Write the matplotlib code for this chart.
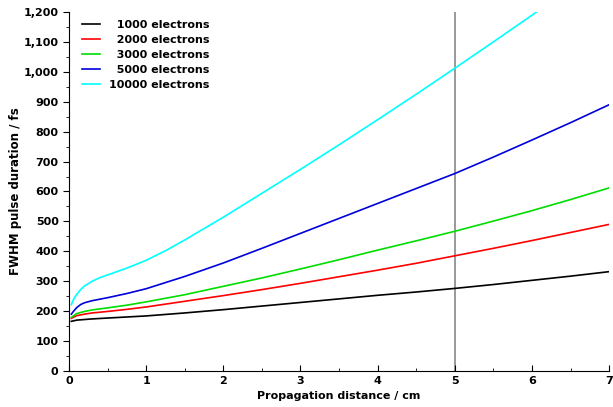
import numpy as np
import matplotlib
matplotlib.use('Agg')
from matplotlib import pyplot as plt
from matplotlib.ticker import MultipleLocator, FuncFormatter

# Данные кривых: расстояние, см -> длительность, фс
x_1000 = [0.03, 0.1, 0.3, 0.5, 1, 1.5, 2, 2.5, 3, 3.5, 4, 4.5, 5, 5.5, 6, 6.5, 7]
y_1000 = [166, 170, 174, 177, 184, 194, 205, 217, 229, 241, 253, 264, 276, 289, 303, 317, 332]

x_2000 = [0.03, 0.1, 0.2, 0.3, 0.5, 0.75, 1, 1.5, 2, 2.5, 3, 3.5, 4, 4.5, 5, 5.5, 6, 6.5, 7]
y_2000 = [176, 185, 190, 194, 199, 206, 214, 233, 252, 272, 293, 315, 337, 360, 385, 410, 436, 463, 490]

x_3000 = [0.03, 0.1, 0.2, 0.3, 0.5, 0.75, 1, 1.5, 2, 2.5, 3, 3.5, 4, 4.5, 5, 5.5, 6, 6.5, 7]
y_3000 = [179, 192, 199, 204, 211, 220, 231, 255, 283, 311, 341, 372, 404, 435, 467, 501, 536, 573, 612]

x_5000 = [0.03, 0.06, 0.1, 0.15, 0.2, 0.3, 0.4, 0.5, 0.75, 1, 1.5, 2, 2.5, 3, 3.5,
          4, 4.5, 5, 5.5, 6, 6.5, 7]
y_5000 = [190, 200, 212, 222, 228, 235, 240, 245, 259, 275, 316, 361, 410, 460, 510,
          560, 610, 660, 715, 772, 830, 890]

x_10000 = [0.03, 0.06, 0.1, 0.15, 0.2, 0.3, 0.4, 0.5, 0.75, 1, 1.25, 1.5, 2, 2.5,
           3, 3.5, 4, 4.5, 5, 5.5, 6.06]
y_10000 = [222, 240, 256, 272, 284, 300, 312, 321, 344, 370, 402, 438, 514, 594,
           674, 756, 840, 925, 1012, 1100, 1200]

labels = ['\u20071000 electrons', '\u20072000 electrons', '\u20073000 electrons',
          '\u20075000 electrons', '10000 electrons']
colors = ['black', 'red', '#00dd00', '#0000dd', '#00ffff']

plt.rcParams['font.family'] = ['DejaVu Sans']
plt.rcParams['font.weight'] = 'bold'

fig = plt.figure(figsize=(6.13, 4.07), dpi=100)
ax = fig.add_axes([0.1126, 0.0885, 0.881, 0.882])

series = [(x_1000, y_1000), (x_2000, y_2000), (x_3000, y_3000),
          (x_5000, y_5000), (x_10000, y_10000)]
for (xs, ys), lab, col in zip(series, labels, colors):
    ax.plot(xs, ys, color=col, lw=1.2, label=lab)

# Вертикальная линия на 5 см
ax.axvline(5, color='#888888', lw=1.2, zorder=0)

ax.set_xlim(0, 7)
ax.set_ylim(0, 1200)
ax.xaxis.set_major_locator(MultipleLocator(1))
ax.xaxis.set_minor_locator(MultipleLocator(0.5))
ax.yaxis.set_major_locator(MultipleLocator(100))
ax.yaxis.set_minor_locator(MultipleLocator(50))
ax.yaxis.set_major_formatter(FuncFormatter(lambda v, p: f'{int(v):,}'))

for s in ['top', 'right']:
    ax.spines[s].set_visible(False)
ax.tick_params(axis='x', which='both', direction='in', labelsize=8)
ax.tick_params(axis='y', which='both', direction='out', labelsize=8)
ax.tick_params(which='minor', length=2.5)
ax.tick_params(which='major', length=4)

ax.set_xlabel('Propagation distance / cm', fontsize=8, fontweight='bold', labelpad=4)
ax.set_ylabel('FWHM pulse duration / fs', fontsize=8.5, fontweight='bold', labelpad=1)

ax.legend(loc='upper left', bbox_to_anchor=(0.01, 1.0), frameon=False,
          fontsize=8, handlelength=1.6, labelspacing=0.45, borderaxespad=0.3)

plt.savefig('out.png', dpi=100)
